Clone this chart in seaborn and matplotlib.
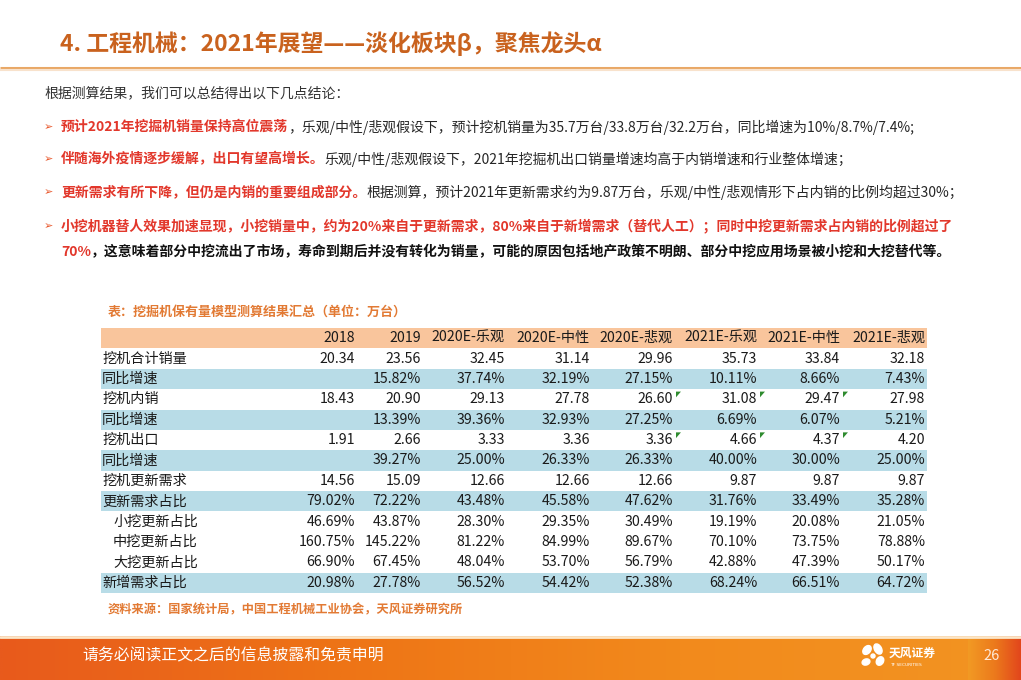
import numpy as np
import pandas as pd
import matplotlib
matplotlib.use("Agg")
import matplotlib.pyplot as plt
from matplotlib.colors import ListedColormap, LinearSegmentedColormap
from matplotlib.patches import Ellipse
import seaborn as sns

# ---------------- data ----------------
columns = ['2018', '2019', '2020E-乐观', '2020E-中性', '2020E-悲观', '2021E-乐观', '2021E-中性', '2021E-悲观']
row_labels = ['挖机合计销量', '同比增速', '挖机内销', '同比增速', '挖机出口', '同比增速',
              '挖机更新需求', '更新需求占比', '小挖更新占比', '中挖更新占比', '大挖更新占比', '新增需求占比']
total_sales = [20.34, 23.56, 32.45, 31.14, 29.96, 35.73, 33.84, 32.18]
total_yoy = [None, 15.82, 37.74, 32.19, 27.15, 10.11, 8.66, 7.43]
domestic = [18.43, 20.90, 29.13, 27.78, 26.60, 31.08, 29.47, 27.98]
domestic_yoy = [None, 13.39, 39.36, 32.93, 27.25, 6.69, 6.07, 5.21]
export = [1.91, 2.66, 3.33, 3.36, 3.36, 4.66, 4.37, 4.20]
export_yoy = [None, 39.27, 25.00, 26.33, 26.33, 40.00, 30.00, 25.00]
renewal = [14.56, 15.09, 12.66, 12.66, 12.66, 9.87, 9.87, 9.87]
renewal_share = [79.02, 72.22, 43.48, 45.58, 47.62, 31.76, 33.49, 35.28]
small_share = [46.69, 43.87, 28.30, 29.35, 30.49, 19.19, 20.08, 21.05]
mid_share = [160.75, 145.22, 81.22, 84.99, 89.67, 70.10, 73.75, 78.88]
large_share = [66.90, 67.45, 48.04, 53.70, 56.79, 42.88, 47.39, 50.17]
new_share = [20.98, 27.78, 56.52, 54.42, 52.38, 68.24, 66.51, 64.72]
row_values = [total_sales, total_yoy, domestic, domestic_yoy, export, export_yoy,
              renewal, renewal_share, small_share, mid_share, large_share, new_share]
row_is_pct = [False, True, False, True, False, True, False, True, True, True, True, True]
row_style = [1, 2, 1, 2, 1, 2, 1, 2, 1, 1, 1, 2]          # 1 white, 2 blue
row_indent = [False] * 8 + [True, True, True, False]
comment_cells = [(2, 5), (2, 6), (2, 7), (4, 5), (4, 6), (4, 7)]

title = '4. 工程机械：2021年展望——淡化板块β，聚焦龙头α'
intro = '根据测算结果，我们可以总结得出以下几点结论：'
RED, DARK = '#E2372B', '#262626'
bullets = [
    [('预计2021年挖掘机销量保持高位震荡', RED, 'bold'),
     ('，乐观/中性/悲观假设下，预计挖机销量为35.7万台/33.8万台/32.2万台，同比增速为10%/8.7%/7.4%;', DARK, 'normal')],
    [('伴随海外疫情逐步缓解，出口有望高增长。', RED, 'bold'),
     ('乐观/中性/悲观假设下，2021年挖掘机出口销量增速均高于内销增速和行业整体增速；', DARK, 'normal')],
    [('更新需求有所下降，但仍是内销的重要组成部分。', RED, 'bold'),
     ('根据测算，预计2021年更新需求约为9.87万台，乐观/中性/悲观情形下占内销的比例均超过30%；', DARK, 'normal')],
    [('小挖机器替人效果加速显现，小挖销量中，约为20%来自于更新需求，80%来自于新增需求（替代人工）；同时中挖更新需求占内销的比例超过了', RED, 'bold')],
]
bullet_cont = [('70%', RED, 'bold'),
               ('，这意味着部分中挖流出了市场，寿命到期后并没有转化为销量，可能的原因包括地产政策不明朗、部分中挖应用场景被小挖和大挖替代等。', '#111111', 'bold')]
caption = '表：挖掘机保有量模型测算结果汇总（单位：万台）'
source = '资料来源：国家统计局，中国工程机械工业协会，天风证券研究所'
footer = '请务必阅读正文之后的信息披露和免责申明'
page_no = '26'

# ---------------- layout ----------------
sns.set_theme(style='white')
CJK = ['Noto Sans CJK SC', 'DejaVu Sans']
plt.rcParams['font.family'] = CJK
W, H = 1021, 680
fig = plt.figure(figsize=(W / 100, H / 100), dpi=100)
fig.patch.set_facecolor('white')
renderer = fig.canvas.get_renderer()


def fx(px):
    return px / W


def fy(py):
    return 1 - py / H


# title + rule
fig.text(fx(60), fy(44), title, color='#C9621E', fontsize=16.5, fontweight='bold', va='center', ha='left')
bg = fig.add_axes([0, 0, 1, 1], zorder=-5)
bg.set_xlim(0, W)
bg.set_ylim(H, 0)
bg.axis('off')
bg.plot([0, W], [68, 68], color='#E9A866', lw=2.2, solid_capstyle='butt')
bg.plot([0, W], [70, 70], color='#F8E2CC', lw=1.5, solid_capstyle='butt')

# body text
BFS = 10
fig.text(fx(44), fy(93), intro, color='#333333', fontsize=BFS, va='center', ha='left')


def seq(x, y, segs, size):
    for txt, color, weight in segs:
        t = fig.text(fx(x), fy(y), txt, color=color, fontsize=size, fontweight=weight,
                     va='center', ha='left')
        bb = t.get_window_extent(renderer=renderer)
        x = bb.x1
    return x


bullet_y = [127, 159, 192, 226]
for yb, segs in zip(bullet_y, bullets):
    fig.text(fx(44), fy(yb), '➢', color='#E8562A', fontsize=8, va='center', ha='left',
             family=['DejaVu Sans'])
    seq(61, yb, segs, BFS)
seq(61, 252, bullet_cont, BFS)

# caption & source
fig.text(fx(108), fy(312), caption, color='#E27A34', fontsize=9.4, fontweight='bold', va='center', ha='left')
fig.text(fx(108), fy(610), source, color='#E27A34', fontsize=8.8, fontweight='bold', va='center', ha='left')

# ---------------- table (seaborn heatmap of row styles) ----------------
TL, TR, TT, TB = 101, 927, 328, 593
ax = fig.add_axes([fx(TL), fy(TB), (TR - TL) / W, (TB - TT) / H])
style_df = pd.DataFrame({'style': [0] + row_style}, index=['header'] + row_labels)
cmap = ListedColormap(['#F9C59C', '#FFFFFF', '#B8DCE7'])
sns.heatmap(style_df, cmap=cmap, vmin=-0.5, vmax=2.5, cbar=False, ax=ax,
            xticklabels=False, yticklabels=False, linewidths=0)
ax.set_xlabel('')
ax.set_ylabel('')
for s in ax.spines.values():
    s.set_visible(False)

col_right_px = [355, 421, 505, 590, 673, 757, 840, 925]
col_left_px = [300, 358, 424, 508, 593, 676, 760, 843]


def dx(px):
    return (px - TL) / (TR - TL)


TFS = 10.2
TXT = '#1A1A1A'
for j, c in enumerate(columns):
    ax.text(dx(col_right_px[j]), 0.5, c, ha='right', va='center', fontsize=TFS, color=TXT)
for i, (lab, vals) in enumerate(zip(row_labels, row_values)):
    yy = i + 1.5
    ax.text(dx(113 if row_indent[i] else 102), yy, lab, ha='left', va='center', fontsize=TFS, color=TXT)
    for j, v in enumerate(vals):
        if v is None:
            continue
        s = f'{v:.2f}%' if row_is_pct[i] else f'{v:.2f}'
        ax.text(dx(col_right_px[j]), yy, s, ha='right', va='center', fontsize=TFS, color=TXT)
for (r, cidx) in comment_cells:
    x0 = dx(col_left_px[cidx])
    y0 = r + 1 + 0.12
    ax.fill([x0, x0 + 0.006, x0], [y0, y0, y0 + 0.28], color='#2E8B2E', lw=0)

# ---------------- footer ----------------
fax = fig.add_axes([0, 0, 1, 44 / H], zorder=-4)
grad = np.linspace(0, 1, 512)[None, :]
fcmap = LinearSegmentedColormap.from_list('f', ['#E85A1C', '#EE7416', '#F28A1C', '#F39422'])
fax.imshow(grad, aspect='auto', cmap=fcmap, extent=[0, W, 0, 44])
pcmap = LinearSegmentedColormap.from_list('p', ['#F29A24', '#EC7A1C', '#E2461C'])
fax.imshow(grad, aspect='auto', cmap=pcmap, extent=[968, W, 0, 44])
fax.set_xlim(0, W)
fax.set_ylim(0, 44)
fax.axis('off')
# logo (footer axes coords: y measured up from bottom of the image)
for (cx, cy, w, h, a) in [(867, 650, 7, 10, 40), (878, 649, 7, 11, -30), (866, 662, 8, 6, -20),
                          (880, 661, 7, 9, 30), (873, 656, 4, 4, 0)]:
    fax.add_patch(Ellipse((cx, H - cy), w, h, angle=-a, color='white', zorder=5))
fax.plot([0, W], [43, 43], color='#FBE6C8', lw=2)
fig.text(fx(82), fy(656), footer, color='white', fontsize=11.4, va='center', ha='left')
fig.text(fx(992), fy(656), page_no, color='#FFE9D6', fontsize=10.5, va='center', ha='center')
fig.text(fx(889), fy(653), '天风证券', color='white', fontsize=8.5, fontweight='bold', va='center', ha='left')
fig.text(fx(890), fy(665), 'TF SECURITIES', color='white', fontsize=3.2, va='center', ha='left',
         family=['DejaVu Sans'])

fig.savefig('out.png', dpi=100)
